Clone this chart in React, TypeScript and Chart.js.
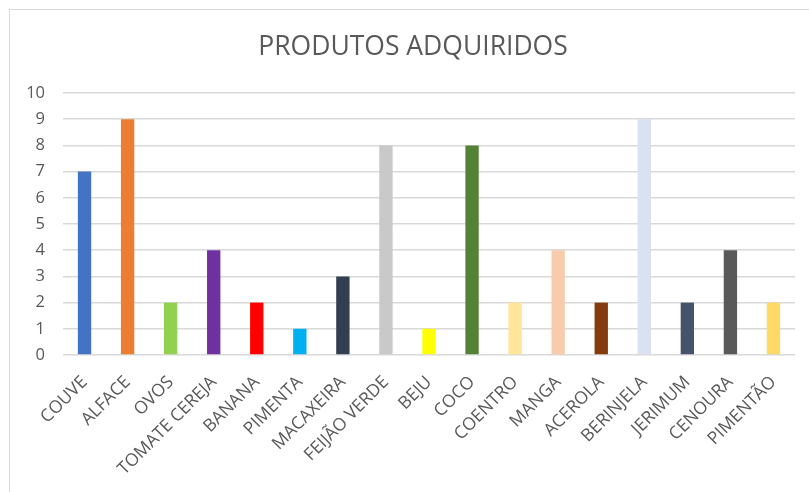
import React, { useEffect, useRef } from "react";
import { Chart, registerables } from "chart.js";

Chart.register(...registerables);

const categories = [
  "COUVE", "ALFACE", "OVOS", "TOMATE CEREJA", "BANANA", "PIMENTA", "MACAXEIRA",
  "FEIJÃO VERDE", "BEJU", "COCO", "COENTRO", "MANGA", "ACEROLA", "BERINJELA",
  "JERIMUM", "CENOURA", "PIMENTÃO",
];
const values = [7, 9, 2, 4, 2, 1, 3, 8, 1, 8, 2, 4, 2, 9, 2, 4, 2];
const barColors = [
  "#4472C4", "#ED7D31", "#92D050", "#7030A0", "#FF0000", "#00B0F0", "#333F50",
  "#C9C9C9", "#FFFF00", "#548235", "#FFE699", "#F8CBAD", "#843C0C", "#D9E1F2",
  "#44546A", "#595959", "#FFD966",
];
const title = "PRODUTOS ADQUIRIDOS";
const yMin = 0;
const yMax = 10;
const yStep = 1;

const FONT = "'Open Sans', sans-serif";
const TEXT = "#595959";

// Draws the chart title centred on the whole chart box (as in the reference),
// rather than on the area left after layout padding.
const centeredTitle = {
  id: "centeredTitle",
  afterDraw(chart: any) {
    const ctx = chart.ctx;
    ctx.save();
    ctx.fillStyle = TEXT;
    ctx.font = `normal 26.5px ${FONT}`;
    ctx.textAlign = "center";
    ctx.textBaseline = "middle";
    ctx.fillText(title, 403, 37.5);
    ctx.restore();
  },
};

export default function App() {
  const ref = useRef<HTMLCanvasElement | null>(null);

  useEffect(() => {
    document.body.style.margin = "0";
    if (!ref.current) return;
    const chart = new Chart(ref.current, {
      type: "bar",
      data: {
        labels: categories,
        datasets: [
          {
            data: values,
            backgroundColor: barColors,
            borderWidth: 0,
            barPercentage: 0.62,
            categoryPercentage: 0.5,
          },
        ],
      },
      plugins: [centeredTitle],
      options: {
        animation: false,
        responsive: false,
        maintainAspectRatio: false,
        layout: { padding: { left: 0, right: 27, top: 83, bottom: 0 } },
        plugins: {
          legend: { display: false },
          tooltip: { enabled: false },
          title: { display: false },
        },
        scales: {
          x: {
            grid: { display: false },
            border: { display: false },
            ticks: {
              color: TEXT,
              font: { family: FONT, size: 17.5 },
              maxRotation: 45,
              minRotation: 45,
              padding: 9,
              autoSkip: false,
            },
            afterFit: (s: any) => {
              s.height = 137;
            },
          },
          y: {
            min: yMin,
            max: yMax,
            border: { display: false },
            grid: { color: "#D9D9D9", lineWidth: 1.5, drawTicks: false },
            ticks: {
              stepSize: yStep,
              color: TEXT,
              font: { family: FONT, size: 16.5 },
              padding: 18,
            },
            afterFit: (s: any) => {
              s.width = 53;
            },
          },
        },
      },
    });
    return () => chart.destroy();
  }, []);

  return (
    <div style={{ position: "relative", width: 809, height: 492, overflow: "hidden", background: "#fff" }}>
      <div
        style={{
          position: "absolute",
          left: 9,
          top: 9,
          width: 812,
          height: 500,
          borderLeft: "1px solid #D9D9D9",
          borderTop: "1px solid #D9D9D9",
        }}
      >
        <canvas ref={ref} width={812} height={482} style={{ display: "block" }} />
      </div>
    </div>
  );
}
